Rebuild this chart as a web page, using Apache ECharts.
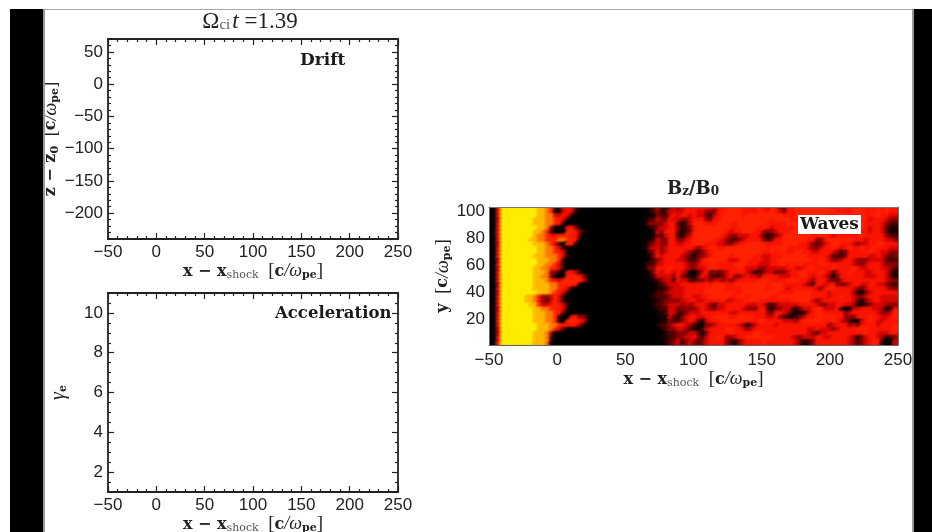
<!DOCTYPE html>
<html><head><meta charset="utf-8">
<style>html,body{margin:0;padding:0;background:#fff}#c{width:932px;height:532px;filter:blur(0.6px)}</style>
<script src="https://cdn.jsdelivr.net/npm/echarts@6/dist/echarts.min.js"></script>
</head><body><div id="c"></div>
<script>
// Heat map values: colour level 0 (black) to 9 (yellow); rows top to bottom, columns left to right
const heatRows = [
"0059999999 9988761255 5200000000 0000000001 2412343455 5555545566 6655556546 5325566666 6666556556 6656565655",
"0059999999 9988760145 4100000000 0000000001 2312444455 5443335566 6655556556 5435566666 6666655556 6655565655",
"0059999999 9988774454 1000000000 0000000000 1322454554 5442245666 6656666666 6655566666 6665566655 6655665544",
"0149999999 9888776541 0000000000 0000000012 2433544334 5553355666 6666666665 6666555556 6655555555 6654555433",
"0059999999 9888776510 0000000000 0000000013 3334552124 6665556665 5666666655 5556665565 6655555556 6655554322",
"0059999999 9988730015 5300000000 0000000001 2344553123 5666666665 5666665654 5555566666 6666655566 6654554211",
"0159999999 9887620006 6531000000 0000000000 1435552123 6666666654 5566655333 4555666666 6556555555 6554554211",
"0059999999 9877655666 5520000000 0000000000 1324552134 6666666543 3444554212 3466666665 5665455555 5655555322",
"0059999999 8877666776 6500000000 0000000001 2433553345 6666655432 2345555323 5566666655 3356666665 5545555443",
"0149999999 9888764106 5100000000 0000000012 3433554455 6665554433 4556666655 5566665543 2345665554 3445566555",
"0059999999 9988776410 0000000000 0000000013 4434555555 4345665566 6666666656 6665555543 3455654565 5655655544",
"0059999999 9988776540 0000000000 0000000002 3534555543 2234566666 6666666556 5665566554 4555432355 5556554433",
"0069999999 9888777640 0000000000 0000000001 3545555432 1334566665 6666655445 5566666655 5554222355 5554454323",
"0049999999 9988877610 0000000000 0000000001 2345554432 2356666654 4566555445 5666666665 5654334554 3334444222",
"0059999999 9988776410 0000000000 0000000012 2445555543 3455665555 6665554445 5665656555 5665555554 3345554333",
"0149999999 9887766410 0000000000 0000000013 3555655543 3445665555 5654443344 4445544566 5555655556 5445554432",
"0059999999 9888733015 5410000000 0000000001 3545545430 0245232345 5554312344 2334556655 5654245565 5544555421",
"0059999999 9887730016 6653000000 0000000001 2444435321 1354222345 3345443555 5444556654 5543135555 5544455421",
"0059999999 9888765466 6664000000 0000000000 1234425442 2334344343 4555556665 5556665543 5553324555 5555555433",
"0049999999 9888877666 6500000000 0000000000 0123444555 5556566655 6666666656 6655555432 5545533345 5445544322",
"0059999999 9888877654 1000000000 0000000000 0112344455 5556666655 5566666656 6654555555 4356655554 3245555433",
"0149999999 9988876541 0000000000 0000000000 1223444455 5556666666 5566666666 6555566665 5554555553 1134555555",
"0059999998 8753346410 0000000000 0000000001 1222344455 4455666665 5665666665 5666666665 5554556554 3345554444",
"0059999998 8753246410 0000000000 0000000000 1123333445 5445555644 5556665555 5555666664 3455555554 2134554444",
"0059999999 8864456541 0000000000 0000000000 1223444343 4554324455 5554445422 3444445555 4334455443 1123444333",
"0149999999 9887766541 0000000000 0000000000 0122442333 3454334455 5543335521 3344213445 6644451014 4555443125",
"0059999999 9888776520 0000000000 0000000000 0112442234 4455555554 4555555533 5543111245 6655555345 5555543346",
"0059999999 9888776100 5533000000 0000000000 0011421345 5445566665 5666655544 5321123455 6666655333 5556554456",
"0069999999 9888776106 6654000000 0000000000 0011322345 4214555666 6665556655 5544435666 6655654320 1456544555",
"0059999999 9988877655 5531000000 0000000000 0122345543 2013345555 5431345555 4555555555 5553455534 3555545556",
"0049999999 9988876420 0000000000 0000000000 0012334432 1124555566 5543455555 5555555544 5444345555 6665555556",
"0149999999 9888730000 0000000000 0000000000 0001223334 4213555556 5555566555 5555555543 2445555555 5565544455",
"0059999999 9888720000 0000000000 0000000000 0011223344 5324556533 4556666666 5555433444 5544555543 1345543123",
"0059999999 9888710000 0000000000 0000000000 0001234234 3234555532 1345555655 5555542123 5555555543 2345651014"
];
const heatColors = ["#000000","#1e0000","#500000","#900000","#d80400","#fa1400","#ff2200","#ff7800","#ffb800","#ffee00"];
const xMajor = [-50,0,50,100,150,200,250];
const xMinor = [-40,-30,-20,-10,10,20,30,40,60,70,80,90,110,120,130,140,160,170,180,190,210,220,230,240];
const driftYMajor = [-200,-150,-100,-50,0,50];
const driftYMinor = [-230,-220,-210,-190,-180,-170,-160,-140,-130,-120,-110,-90,-80,-70,-60,-40,-30,-20,-10,10,20,30,40,60];
const accelYMajor = [2,4,6,8,10];
const accelYMinor = [1.5,2.5,3,3.5,4.5,5,5.5,6.5,7,7.5,8.5,9,9.5,10.5];
const waveYLabels = [20,40,60,80,100];

const ink = '#222222';
const sans = '"Liberation Sans", Arial, sans-serif';
const serif = '"DejaVu Serif", serif';
const lib = '"Liberation Serif",serif';
const fmt = v => String(v).replace('-', '\u2212');

const mathRich = {
  b:{fontFamily:serif,fontWeight:'bold',fontSize:16,color:ink},
  sh:{fontFamily:serif,fontWeight:'normal',fontSize:11,color:'#555',verticalAlign:'bottom',padding:[5,0,0,0]},
  sb:{fontFamily:serif,fontWeight:'bold',fontSize:11,color:ink,verticalAlign:'bottom',padding:[5,0,0,0]},
  r:{fontFamily:lib,fontWeight:'normal',fontSize:19,color:ink},
  i:{fontFamily:lib,fontWeight:'normal',fontStyle:'italic',fontSize:18,color:ink},
  g:{fontFamily:lib,fontWeight:'normal',fontStyle:'italic',fontSize:20,color:ink}
};
const xName = '{b|x \u2212 x}{sh|shock}{r|  [}{b|c}{i|/\u03C9}{sb|pe}{r|]}';

const grids = [
  {left:108,right:534,top:39,height:200,outerBoundsMode:'none'},
  {left:108,right:534,top:293,height:199,outerBoundsMode:'none'},
  {left:489,right:34,top:207,height:138,outerBoundsMode:'none',show:true,backgroundColor:'#000',borderWidth:0}
];
const lineStyle = {color:ink,width:1.8};

function frameAxes(kind, gridIndex, min, max, major, minor, opts){
  const main = kind==='x' ? 'bottom' : 'left';
  const other = kind==='x' ? 'top' : 'right';
  const base = {type:'value',gridIndex,min,max,splitLine:{show:false},z:5};
  const tick = (vals,len)=>({show:true,inside:true,length:len,lineStyle:{color:ink,width:1.2},customValues:vals});
  const off = {show:false};
  const noLine = {show:false,onZero:false};
  return [
    Object.assign({},base,{position:main,axisLine:{show:true,onZero:false,lineStyle},axisTick:tick(major,6),
      axisLabel:{show:true,customValues:major,formatter:fmt,fontFamily:sans,fontSize:17,color:ink,margin:5}},opts||{}),
    Object.assign({},base,{position:main,axisLine:noLine,axisTick:tick(minor,3),axisLabel:off}),
    Object.assign({},base,{position:other,axisLine:{show:true,onZero:false,lineStyle},axisTick:tick(major,6),axisLabel:off}),
    Object.assign({},base,{position:other,axisLine:noLine,axisTick:tick(minor,3),axisLabel:off})
  ];
}
const xNameOpts = {name:xName,nameLocation:'middle',nameGap:23,nameTextStyle:{rich:mathRich}};
const xAxes = [
  ...frameAxes('x',0,-50,250,xMajor,xMinor,xNameOpts),
  ...frameAxes('x',1,-50,250,xMajor,xMinor,xNameOpts)
];
const yAxes = [
  ...frameAxes('y',0,-240,70,driftYMajor,driftYMinor,{name:'{b|z \u2212 z}{sb|0}{r|  [}{b|c}{i|/\u03C9}{sb|pe}{r|]}',nameLocation:'middle',nameGap:45,nameTextStyle:{rich:mathRich}}),
  ...frameAxes('y',1,1,11,accelYMajor,accelYMinor,{name:'{g|\u03B3}{sb|e}',nameLocation:'middle',nameGap:39,nameTextStyle:{rich:mathRich}})
];

// Heat panel: each level cell is placed through the axes, and painted as a soft splat
const rows = heatRows.map(r=>r.replace(/ /g,''));
const nCols = rows[0].length, nRows = rows.length;
const heatX0=-50, heatX1=250, heatY0=1, heatY1=103;
const heatData = [];
rows.forEach((r,ri)=>{ for(let c=0;c<r.length;c++) heatData.push([
  heatX0+(c+0.5)*(heatX1-heatX0)/nCols,
  heatY1-(ri+0.5)*(heatY1-heatY0)/nRows,
  +r[c]]); });
const heatXIdx = xAxes.length;
xAxes.push({type:'value',gridIndex:2,min:heatX0,max:heatX1,position:'bottom',z:5,splitLine:{show:false},
  axisLine:{show:true,onZero:false,lineStyle:{color:'#666',width:1}},axisTick:{show:false},
  axisLabel:{show:true,customValues:xMajor,formatter:fmt,fontFamily:sans,fontSize:17,color:ink,margin:7},
  name:xName,nameLocation:'middle',nameGap:24,nameTextStyle:{rich:mathRich}});
xAxes.push({type:'value',gridIndex:2,min:heatX0,max:heatX1,position:'top',z:5,splitLine:{show:false},
  axisLine:{show:true,onZero:false,lineStyle:{color:'#777',width:1}},axisTick:{show:false},axisLabel:{show:false}});
const heatYIdx = yAxes.length;
yAxes.push({type:'value',gridIndex:2,min:heatY0,max:heatY1,position:'left',z:5,splitLine:{show:false},
  axisLine:{show:true,onZero:false,lineStyle:{color:'#666',width:1}},axisTick:{show:false},
  axisLabel:{show:true,customValues:waveYLabels,fontFamily:sans,fontSize:17,color:ink,margin:4},
  name:'{b|y}{r|  [}{b|c}{i|/\u03C9}{sb|pe}{r|]}',nameLocation:'middle',nameGap:32,nameTextStyle:{rich:mathRich}});
yAxes.push({type:'value',gridIndex:2,min:heatY0,max:heatY1,position:'right',z:5,splitLine:{show:false},
  axisLine:{show:true,onZero:false,lineStyle:{color:'#777',width:1}},axisTick:{show:false},axisLabel:{show:false}});

const splatCache = heatColors.map(col=>({
  type:'radial',x:0.5,y:0.5,r:0.5,global:false,colorStops:[
    {offset:0,color:echarts.color.modifyAlpha(col,1)},
    {offset:0.45,color:echarts.color.modifyAlpha(col,0.85)},
    {offset:1,color:echarts.color.modifyAlpha(col,0)}
  ]}));
function renderSplat(params,api){
  const p = api.coord([api.value(0),api.value(1)]);
  const s = api.size([(heatX1-heatX0)/nCols,(heatY1-heatY0)/nRows]);
  const rad = Math.max(s[0],s[1])*1.35;
  return {type:'circle',shape:{cx:p[0],cy:p[1],r:rad},style:{fill:splatCache[api.value(2)]},silent:true};
}

const labelStyle = {fontFamily:serif,fontWeight:'bold',fontSize:17,color:'#1a1a1a'};
const bRich = {
  b:{fontFamily:serif,fontWeight:'bold',fontSize:18,color:ink},
  sb:{fontFamily:serif,fontWeight:'bold',fontSize:12,color:ink,verticalAlign:'bottom',padding:[6,0,0,0]}
};
const chart = echarts.init(document.getElementById('c'),null,{renderer:'canvas'});
chart.setOption({
  animation:false,
  backgroundColor:'#ffffff',
  grid:grids,
  xAxis:xAxes,
  yAxis:yAxes,
  title:[
    {text:'{o|\u03A9}{s|ci}{i|t}{n| =1.39}',left:250,textAlign:'center',top:10,padding:0,textStyle:{rich:{
      o:{fontFamily:lib,fontWeight:'normal',fontSize:23,color:ink},
      s:{fontFamily:lib,fontWeight:'normal',fontSize:15,color:'#555',verticalAlign:'bottom',padding:[6,2,0,0]},
      i:{fontFamily:lib,fontWeight:'normal',fontStyle:'italic',fontSize:23,color:ink},
      n:{fontFamily:lib,fontWeight:'normal',fontSize:23,color:ink}}}},
    {text:'{b|B}{sb|z}{b|/B}{sb|0}',left:693,textAlign:'center',top:180,padding:0,textStyle:{rich:bRich}},
    {text:'Drift',left:300,top:52,padding:0,textStyle:labelStyle},
    {text:'Acceleration',left:275,top:305,padding:0,textStyle:{fontFamily:serif,fontWeight:'bold',fontSize:16.5,color:'#1a1a1a'}},
    {text:'Waves',left:798,top:215,padding:[1,2,1,2],backgroundColor:'#ffffff',textStyle:labelStyle,z:20}
  ],
  series:[{type:'custom',coordinateSystem:'cartesian2d',xAxisIndex:heatXIdx,yAxisIndex:heatYIdx,
    renderItem:renderSplat,data:heatData,encode:{x:0,y:1},clip:true,progressive:0,silent:true,z:2}],
  graphic:[
    {type:'rect',shape:{x:10,y:9,width:33,height:523},style:{fill:'#000'},z:50,silent:true},
    {type:'rect',shape:{x:43,y:9,width:2,height:523},style:{fill:'#999'},z:50,silent:true},
    {type:'rect',shape:{x:914,y:9,width:18,height:523},style:{fill:'#000'},z:50,silent:true},
    {type:'rect',shape:{x:912,y:9,width:2,height:523},style:{fill:'#999'},z:50,silent:true},
    {type:'rect',shape:{x:45,y:9,width:867,height:1},style:{fill:'#aaa'},z:50,silent:true}
  ]
});
</script></body></html>
